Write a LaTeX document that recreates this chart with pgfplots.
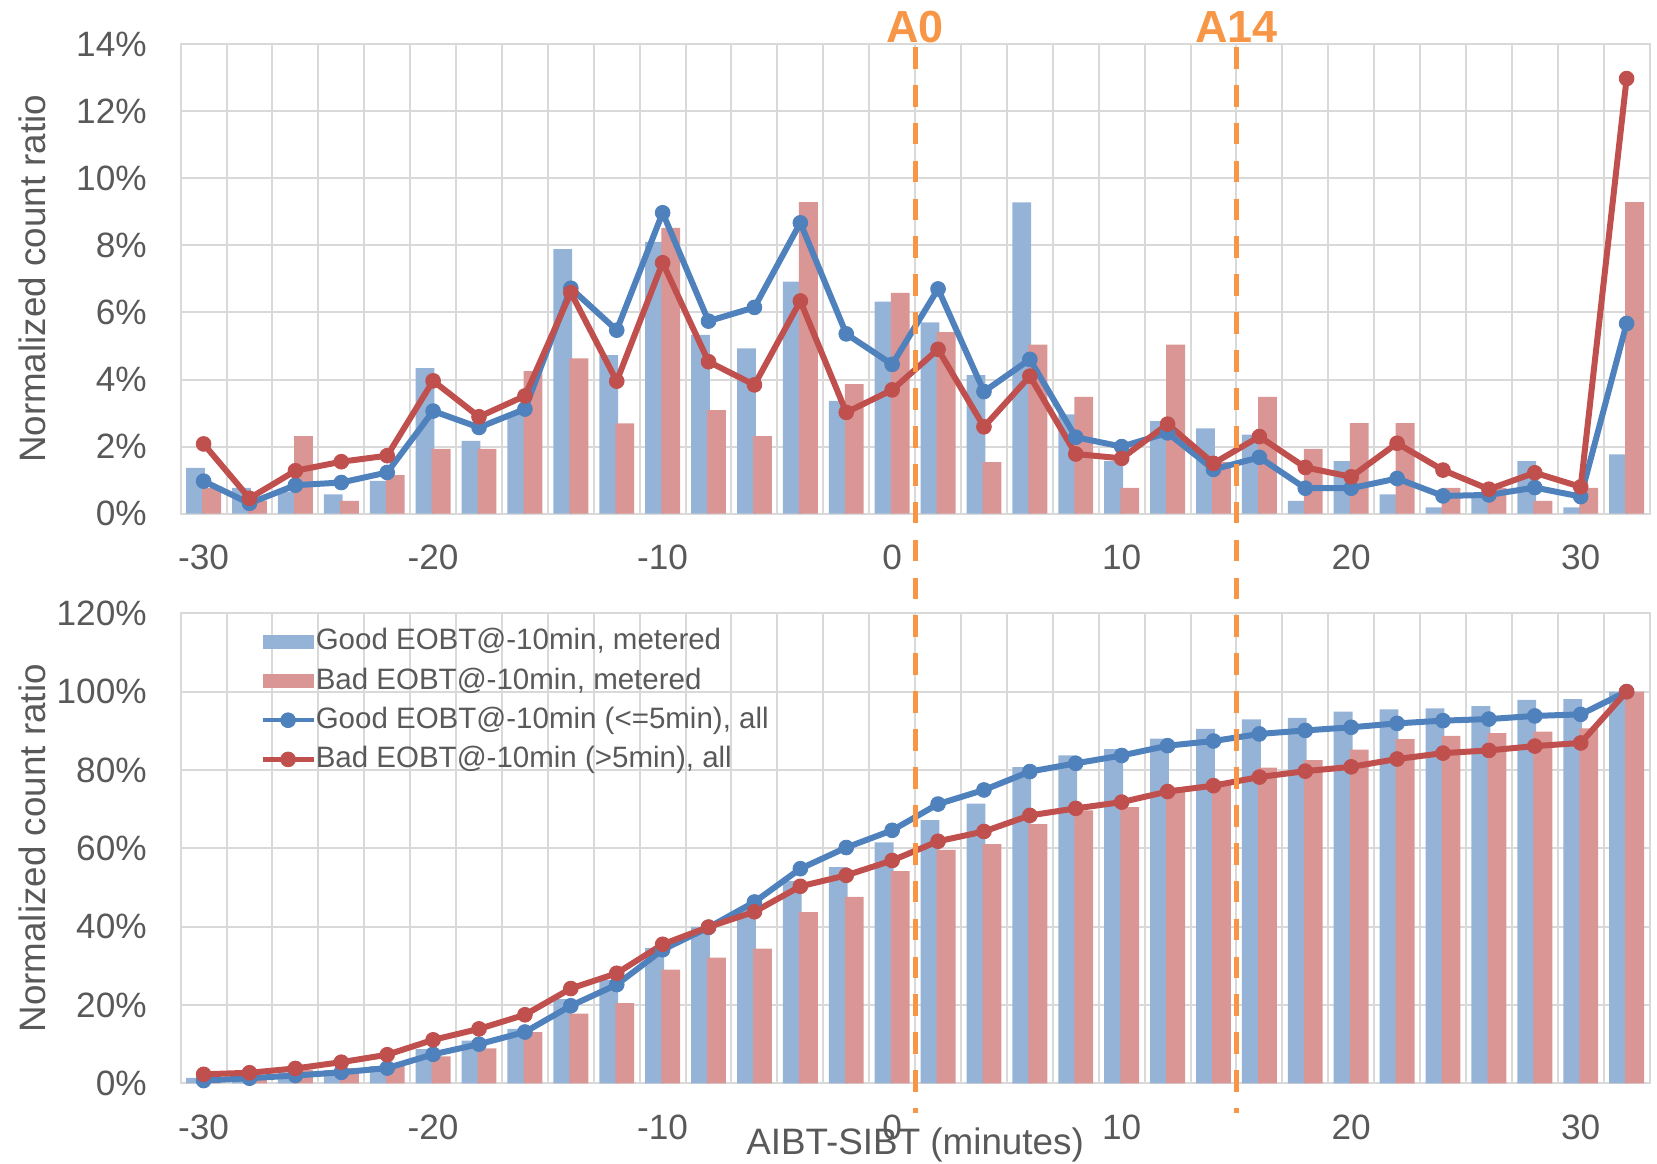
\documentclass[border=0pt]{standalone}
\usepackage{pgfplots}
\pgfplotsset{compat=1.18}
\usepackage{pgfplotstable}
\usepackage{fontspec}
\setmainfont{Liberation Sans}
\definecolor{barblue}{HTML}{95B3D7}
\definecolor{barred}{HTML}{D99694}
\definecolor{lineblue}{HTML}{4F81BD}
\definecolor{linered}{HTML}{C0504D}
\definecolor{orangeA}{HTML}{F79646}
\definecolor{gridgray}{HTML}{D9D9D9}
\definecolor{textgray}{HTML}{595959}

\pgfplotstableread{
x gm bm ga ba
-30 1.37 0.77 0.97 2.08
-28 0.77 0.39 0.31 0.46
-26 0.66 2.31 0.85 1.28
-24 0.58 0.38 0.93 1.55
-22 0.98 1.15 1.23 1.73
-20 4.34 1.93 3.06 3.96
-18 2.17 1.93 2.57 2.89
-16 3.00 4.25 3.12 3.51
-14 7.89 4.63 6.72 6.59
-12 4.73 2.69 5.47 3.95
-10 8.10 8.52 8.97 7.48
-8 5.33 3.09 5.74 4.53
-6 4.93 2.31 6.15 3.84
-4 6.92 9.29 8.67 6.34
-2 3.36 3.86 5.36 3.02
0 6.32 6.58 4.45 3.69
2 5.70 5.41 6.70 4.90
4 4.13 1.54 3.64 2.59
6 9.28 5.04 4.60 4.10
8 2.96 3.48 2.28 1.78
10 1.57 0.77 2.00 1.65
12 2.76 5.04 2.41 2.67
14 2.54 1.54 1.32 1.50
16 2.36 3.48 1.68 2.30
18 0.38 1.93 0.76 1.38
20 1.57 2.70 0.76 1.10
22 0.58 2.70 1.05 2.10
24 0.19 0.77 0.53 1.30
26 0.60 0.77 0.56 0.73
28 1.57 0.38 0.78 1.22
30 0.19 0.77 0.51 0.80
32 1.77 9.29 5.67 12.97
}\toptable

\pgfplotstableread{
x gm bm ga ba
-30 1.4 0.77 0.7 2.3
-28 2.1 1.16 1.3 2.7
-26 2.8 3.47 2.0 3.8
-24 3.4 3.85 2.8 5.4
-22 4.4 5.0 3.9 7.3
-20 8.7 6.9 7.4 11.1
-18 10.9 8.9 10.0 13.9
-16 13.9 13.1 13.1 17.5
-14 21.5 17.8 19.8 24.2
-12 26.4 20.5 25.2 28.1
-10 34.6 29.0 34.1 35.5
-8 39.9 32.1 39.8 39.9
-6 44.8 34.4 46.3 43.8
-4 51.7 43.7 54.8 50.3
-2 55.2 47.6 60.2 53.1
0 61.5 54.2 64.6 56.9
2 67.2 59.6 71.3 61.8
4 71.4 61.1 74.9 64.3
6 80.7 66.2 79.6 68.4
8 83.7 69.7 81.7 70.2
10 85.3 70.5 83.7 71.8
12 88.0 75.5 86.2 74.5
14 90.5 77.1 87.4 76.0
16 92.9 80.6 89.2 78.2
18 93.3 82.5 90.1 79.7
20 94.9 85.2 90.9 80.8
22 95.5 87.9 91.9 82.8
24 95.7 88.7 92.6 84.3
26 96.3 89.4 93.0 85.0
28 97.9 89.8 93.8 86.1
30 98.1 90.6 94.2 86.9
32 100 100 100 100
}\cumtable

\pgfplotsset{
  common/.style={
    scale only axis, width=734.45pt,
    xmin=-31, xmax=33,
    xtick={-30,-20,...,30}, xticklabels={-30,-20,-10,0,10,20,30},
    minor xtick={-31,-29,...,33},
    xminorgrids=true, xmajorgrids=false, ymajorgrids=true,
    major tick length=0pt, minor tick length=0pt,
    major grid style={draw=gridgray, line width=1pt},
    minor grid style={draw=gridgray, line width=1pt},
    axis line style={draw=gridgray, line width=1pt},
    tick label style={font=\fontsize{17.6}{20}\selectfont, text=textgray},
    label style={font=\fontsize{18.4}{21}\selectfont, text=textgray},
    xticklabel style={anchor=center, yshift=-22pt},
    yticklabel style={anchor=east, inner sep=0pt, xshift=-16.8pt},
    ylabel style={at={(axis description cs:-0.1012,0.5)}, anchor=center},
    ylabel={Normalized count ratio},
    clip=false,
    axis on top=false,
  },
  gbar/.style={ybar, bar width=0.82, bar shift=-0.35, fill=barblue, draw=none,
    legend image code/.code={\fill[barblue] (0pt,-3.6pt) rectangle (25.5pt,3.6pt);}},
  bbar/.style={ybar, bar width=0.82, bar shift=0.35, fill=barred, draw=none,
    legend image code/.code={\fill[barred] (0pt,-3.6pt) rectangle (25.5pt,3.6pt);}},
  gline/.style={color=lineblue, line width=3pt, mark=*, mark size=3.7pt,
    mark options={solid, line width=0.4pt},
    legend image code/.code={\draw[mark repeat=2, mark phase=2, ##1, line width=2.2pt] plot coordinates {(0pt,0pt) (12.75pt,0pt) (25.5pt,0pt)};}},
  bline/.style={color=linered, line width=3pt, mark=*, mark size=3.7pt,
    mark options={solid, line width=0.4pt},
    legend image code/.code={\draw[mark repeat=2, mark phase=2, ##1, line width=2.2pt] plot coordinates {(0pt,0pt) (12.75pt,0pt) (25.5pt,0pt)};}},
}

\begin{document}
\begin{tikzpicture}
\path[use as bounding box] (0,0) rectangle (828.5pt,-581.5pt);

\begin{axis}[common, at={(90.325pt,-256.85pt)}, anchor=south west,
  height=234.85pt, ymin=0, ymax=14,
  ytick={0,2,...,14}, yticklabels={0\%,2\%,4\%,6\%,8\%,10\%,12\%,14\%}]
\addplot[gbar] table[x=x, y=gm] {\toptable};
\addplot[bbar] table[x=x, y=bm] {\toptable};
\addplot[gline] table[x=x, y=ga] {\toptable};
\addplot[bline] table[x=x, y=ba] {\toptable};
\node[anchor=base, yshift=1pt, font=\fontsize{22.5}{26}\bfseries\selectfont, text=orangeA] at (axis cs:1,14) {A0};
\node[anchor=base, yshift=1pt, font=\fontsize{22.5}{26}\bfseries\selectfont, text=orangeA] at (axis cs:15,14) {A14};
\end{axis}

\begin{axis}[common, at={(90.325pt,-541.65pt)}, anchor=south west,
  height=235pt, ymin=0, ymax=120,
  ytick={0,20,...,120}, yticklabels={0\%,20\%,40\%,60\%,80\%,100\%,120\%},
  xlabel={AIBT-SIBT (minutes)},
  xlabel style={at={(axis description cs:0.5,-0.131)}, anchor=center},
  legend cell align=left,
  legend style={at={(axis description cs:0.054,0.970)}, anchor=north west,
    draw=none, fill=none, inner sep=0pt, row sep=5.6pt,
    font=\fontsize{14.75}{17}\selectfont, text=textgray,
    nodes={inner sep=0pt, text height=11pt, text depth=3pt},
    /tikz/every even column/.append style={column sep=4.5pt}}]
\addplot[gbar] table[x=x, y=gm] {\cumtable};
\addlegendentry{Good EOBT@-10min, metered}
\addplot[bbar] table[x=x, y=bm] {\cumtable};
\addlegendentry{Bad EOBT@-10min, metered}
\addplot[gline] table[x=x, y=ga] {\cumtable};
\addlegendentry{Good EOBT@-10min (<=5min), all}
\addplot[bline] table[x=x, y=ba] {\cumtable};
\addlegendentry{Bad EOBT@-10min (>5min), all}
\draw[orangeA, line width=2.5pt, dash pattern=on 10.85pt off 8.1pt] (axis cs:1,264.6) -- (axis cs:1,-7.6);
\draw[orangeA, line width=2.5pt, dash pattern=on 10.85pt off 8.1pt] (axis cs:15,264.6) -- (axis cs:15,-7.6);
\end{axis}
\end{tikzpicture}
\end{document}
